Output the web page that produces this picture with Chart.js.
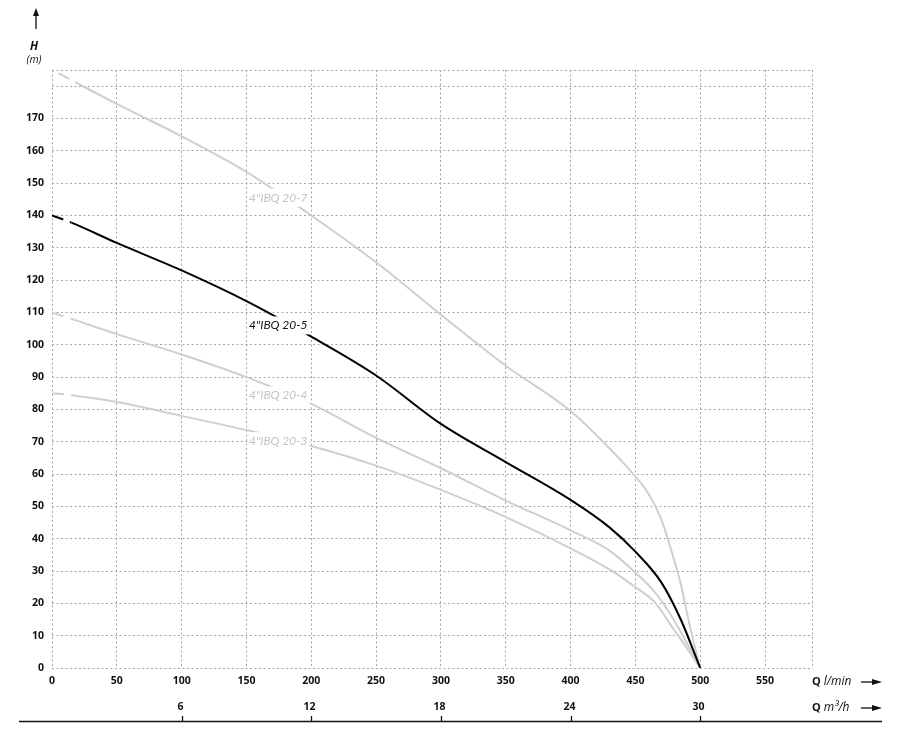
<!DOCTYPE html>
<html>
<head>
<meta charset="utf-8">
<script src="https://cdn.jsdelivr.net/npm/chart.js@4.4.0/dist/chart.umd.min.js"></script>
<style>
html,body{margin:0;padding:0;background:#fff;}
#wrap{position:relative;width:915px;height:731px;}
</style>
</head>
<body>
<div id="wrap"><canvas id="myChart" width="915" height="731"></canvas></div>
<script>
// pump curves, Q in l/min, H in m
const flow207=[5,20,50,100,150,200,250,300,350,400,425,445,460,470,478,485,492,500];
const head207=[184,180.8,174.5,164.5,153.5,140,125.5,109.3,93.5,79.5,70,61.5,54,46,36,26,13,0];

const flow205=[0,15,50,100,150,200,250,300,350,400,430,450,470,485,500];
const head205=[140,137.8,131.5,123,113.5,102.5,90.5,75.5,63.7,52,43.5,36,26.5,15,0];

const flow204=[0,15,50,100,150,200,250,300,350,400,430,450,465,478,490,500];
const head204=[110,108,103.3,97,90,81.7,71.2,61.8,51.8,42.6,36.3,29.5,23.5,16,7.5,0];

const flow203=[0,15,50,100,150,200,250,300,350,400,430,450,465,480,490,500];
const head203=[85,84.4,82.3,78,73.6,68.7,62.6,55.1,46.7,37,30.5,25,20.3,11.7,6,0];

const curveNames=['4"IBQ 20-7','4"IBQ 20-5','4"IBQ 20-4','4"IBQ 20-3'];
const m3hTicks=[6,12,18,24,30];
const flowMax=587, headMax=185;

const toPts=(q,h)=>q.map((v,i)=>({x:v,y:h[i]}));
const grey='#cfcfcf';
const dashFirst={borderDash:c=>c.p0DataIndex===0?[12,7]:undefined};

const mkLine=(label,q,h,color,w,order)=>({
  label:label,data:toPts(q,h),borderColor:color,borderWidth:w,pointRadius:0,
  fill:false,cubicInterpolationMode:'monotone',segment:dashFirst,order:order
});

// curve labels: [name index, Q at left edge, H at middle, colour]
const labelSpots=[[0,152,145.5,'#c4c4c4'],[1,152,106,'#111'],[2,152,84.3,'#c4c4c4'],[3,152,70.2,'#c4c4c4']];

const extras={
  id:'extras',
  beforeDatasetsDraw(chart){
    const {ctx,chartArea:a}=chart;
    ctx.save();
    ctx.strokeStyle='#a6a6a6';ctx.lineWidth=1;ctx.setLineDash([2,2.5]);
    ctx.beginPath();
    ctx.moveTo(a.left,a.top+0.5);ctx.lineTo(a.right,a.top+0.5);
    ctx.moveTo(a.right-0.5,a.top);ctx.lineTo(a.right-0.5,a.bottom);
    ctx.stroke();
    ctx.restore();
  },
  afterDatasetsDraw(chart){
    const {ctx}=chart;
    const xs=chart.scales.x, ys=chart.scales.y;
    ctx.save();
    ctx.font='italic 12px Lato';
    ctx.textBaseline='middle';
    labelSpots.forEach(s=>{
      const t=curveNames[s[0]];
      const x=xs.getPixelForValue(s[1]), y=ys.getPixelForValue(s[2]);
      const w=ctx.measureText(t).width;
      ctx.fillStyle='#fff';
      ctx.fillRect(x-1,y-9,w+3,18);
      ctx.fillStyle=s[3];
      ctx.fillText(t,x,y);
    });
    ctx.restore();
  },
  afterDraw(chart){
    const {ctx}=chart;
    const xs=chart.scales.x;
    ctx.save();
    ctx.fillStyle='#111';ctx.strokeStyle='#111';
    // H axis title and arrow
    ctx.textAlign='center';ctx.textBaseline='middle';
    ctx.font='bold italic 11.5px "Open Sans"';
    ctx.fillText('H',34,47);
    ctx.font='italic 10.5px "Open Sans"';
    ctx.fillText('(m)',34,60);
    ctx.lineWidth=1.3;
    ctx.beginPath();ctx.moveTo(36,29);ctx.lineTo(36,13);ctx.stroke();
    ctx.beginPath();ctx.moveTo(36,8);ctx.lineTo(33,16);ctx.lineTo(39,16);ctx.closePath();ctx.fill();
    // second flow axis in m3/h
    const ly=721.5;
    ctx.lineWidth=1.3;
    ctx.beginPath();ctx.moveTo(19,ly);ctx.lineTo(882,ly);ctx.stroke();
    ctx.font='bold 10.5px "Open Sans"';
    m3hTicks.forEach(v=>{
      const x=Math.round(xs.getPixelForValue(v*1000/60))+0.5;
      ctx.beginPath();ctx.moveTo(x,716);ctx.lineTo(x,ly);ctx.stroke();
      ctx.fillText(String(v),x-2,707);
    });
    // unit captions with arrows
    const unit=(y,txt)=>{
      ctx.textAlign='left';
      ctx.font='bold 11px "Open Sans"';
      ctx.fillText('Q',812,y);
      const qw=ctx.measureText('Q').width;
      ctx.font='italic 12px "Open Sans"';
      ctx.fillText(txt,812+qw+3,y);
      ctx.lineWidth=1.3;
      ctx.beginPath();ctx.moveTo(861,y);ctx.lineTo(874,y);ctx.stroke();
      ctx.beginPath();ctx.moveTo(882,y);ctx.lineTo(872,y-3);ctx.lineTo(872,y+3);ctx.closePath();ctx.fill();
    };
    unit(682,'l/min');
    unit(708,'m\u00b3/h');
    ctx.restore();
  }
};

window.addEventListener('load',()=>{
  const ctx=document.getElementById('myChart');
  new Chart(ctx,{
    type:'line',
    data:{datasets:[
      mkLine(curveNames[0],flow207,head207,grey,2,3),
      mkLine(curveNames[2],flow204,head204,grey,2,3),
      mkLine(curveNames[3],flow203,head203,grey,2,3),
      mkLine(curveNames[1],flow205,head205,'#000',2,1)
    ]},
    options:{
      responsive:false,animation:false,devicePixelRatio:1,
      layout:{padding:{left:0,right:102,top:70,bottom:0}},
      plugins:{legend:{display:false},tooltip:{enabled:false}},
      scales:{
        x:{
          type:'linear',min:0,max:flowMax,
          grid:{color:'#a6a6a6',lineWidth:1,drawTicks:false},
          border:{display:false,dash:[2,2.5]},
          ticks:{stepSize:50,includeBounds:false,padding:7,color:'#111',
            font:{family:'"Open Sans"',size:10.5,weight:'bold'},
            maxRotation:0,autoSkip:false,
            callback:v=>(v%50===0&&v<=550)?v:''},
          afterFit:s=>{s.height=63;}
        },
        y:{
          type:'linear',min:0,max:headMax,
          grid:{color:'#a6a6a6',lineWidth:1,drawTicks:false},
          border:{display:false,dash:[2,2.5]},
          ticks:{stepSize:10,includeBounds:false,padding:8,color:'#111',
            font:{family:'"Open Sans"',size:10.5,weight:'bold'},
            autoSkip:false,
            callback:v=>(v%10===0&&v<=170)?v:''},
          afterFit:s=>{s.width=52;}
        }
      }
    },
    plugins:[extras]
  });
});
</script>
</body>
</html>
